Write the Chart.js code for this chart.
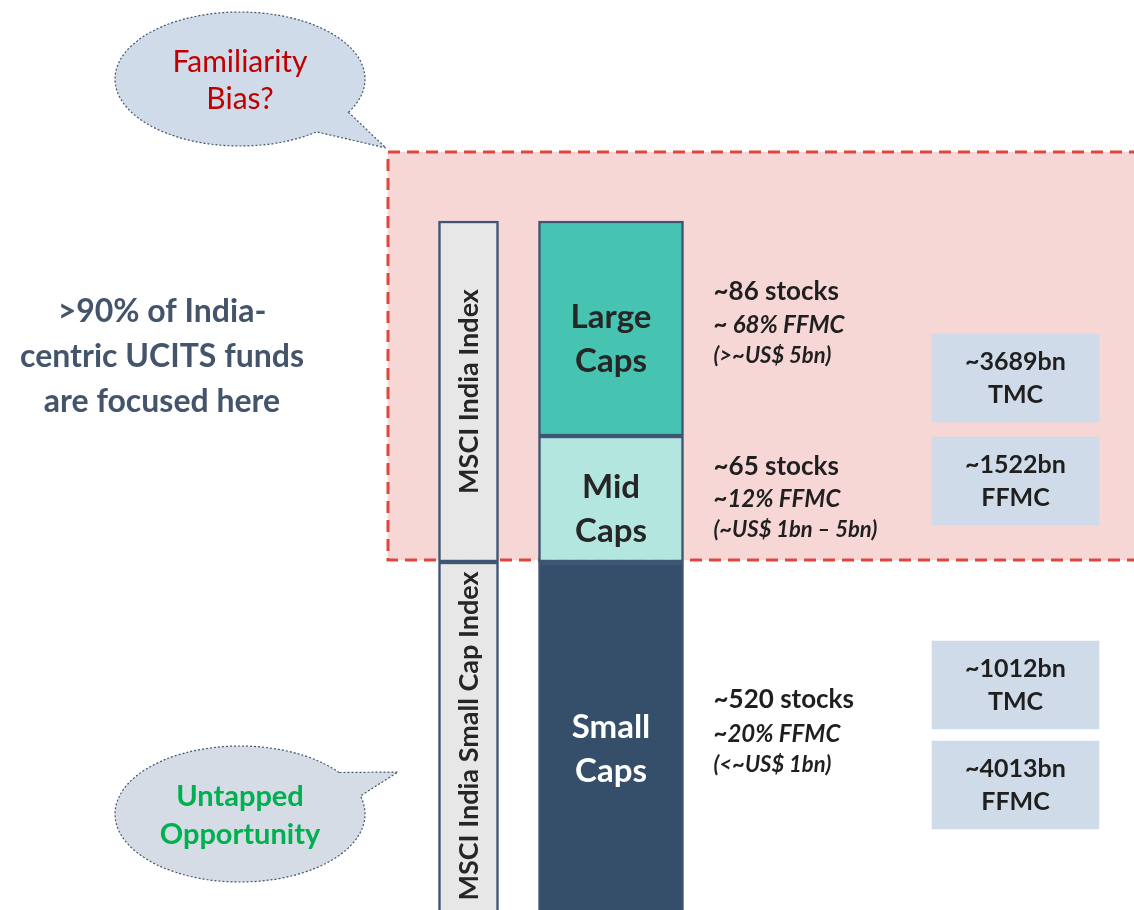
<!DOCTYPE html>
<html>
<head>
<meta charset="utf-8">
<script src="https://cdn.jsdelivr.net/npm/chart.js@4.4.1/dist/chart.umd.min.js"></script>
<style>
  html, body { margin: 0; padding: 0; background: #ffffff; }
  #wrap { width: 1134px; height: 910px; }
</style>
</head>
<body>
<div id="wrap"><canvas id="chart" width="1134" height="910"></canvas></div>
<script>
// market cap segments, top to bottom
const segments = ["Large Caps", "Mid Caps", "Small Caps"];
const segmentStocks = ["~86 stocks", "~65 stocks", "~520 stocks"];
const segmentShare = ["~ 68% FFMC", "~12% FFMC", "~20% FFMC"];
const segmentRange = ["(>~US$ 5bn)", "(~US$ 1bn \u2013 5bn)", "(<~US$ 1bn)"];
// schematic block heights (diagram units, not to scale)
const segmentHeights = [215, 126, 370];

// index families and how many segments each one covers
const indices = ["MSCI India Index", "MSCI India Small Cap Index"];
const indexSpans = [2, 1];

// market cap totals, US$
const capValues = ["~3689bn", "~1522bn", "~1012bn", "~4013bn"];
const capKinds = ["TMC", "FFMC", "TMC", "FFMC"];

// callouts
const focusNote = [">90% of India-", "centric UCITS funds", "are focused here"];
const bubbleTop = ["Familiarity", "Bias?"];
const bubbleBottom = ["Untapped", "Opportunity"];

// ---- layout (diagram units = px, y grows downwards) ----
const W = 1134, H = 910;
const TOP = 221;
const colIndex = { x: 468.5, w: 60 };
const colCaps = { x: 611, w: 145 };
const colBox = { x: 1015.5, w: 167 };
const boxRows = [[334, 422], [437, 525], [641, 729], [741, 829]];
const zone = { x0: 388, x1: 1160, y0: 152, y1: 560 };
const segColors = ["#47C3B1", "#B4E6E0", "#354E69"];
const segText = ["#262626", "#262626", "#ffffff"];
const segLabelY = [[317, 361], [487, 531], [727, 771]];
const infoY = [[292, 325, 356], [467, 499, 530], [700, 734, 765]];
const FONT = "Lato, 'Open Sans', sans-serif";

// cumulative block edges
const segEdges = [];
let acc = TOP;
segmentHeights.forEach((h) => {
  segEdges.push([acc, acc + h]);
  acc += h;
});

const indexEdges = [];
let si = 0;
indexSpans.forEach((n) => {
  indexEdges.push([segEdges[si][0], segEdges[si + n - 1][1]]);
  si += n;
});

const annotate = {
  id: "annotate",
  beforeDatasetsDraw(chart) {
    const { ctx, scales: { x, y } } = chart;
    ctx.save();
    drawBubble(ctx, x, y, { cx: 240, cy: 79, rx: 125, ry: 67, a: 0.52, b: 0.91, tip: [386, 148], fill: "#CFDBE8" });
    drawBubble(ctx, x, y, { cx: 240, cy: 814, rx: 125, ry: 68, a: -0.656, b: -0.269, tip: [398, 772], fill: "#D6DCE5" });
    ctx.restore();
  },
  afterDatasetsDraw(chart) {
    const { ctx, scales: { x, y } } = chart;
    ctx.save();
    ctx.textBaseline = "middle";

    // bubble captions
    ctx.textAlign = "center";
    ctx.fillStyle = "#C00000";
    ctx.font = `400 30px ${FONT}`;
    bubbleTop.forEach((t, i) => ctx.fillText(t, x.getPixelForValue(240), y.getPixelForValue(62 + i * 37)));
    ctx.fillStyle = "#00B050";
    ctx.font = `700 29px ${FONT}`;
    bubbleBottom.forEach((t, i) => ctx.fillText(t, x.getPixelForValue(240), y.getPixelForValue(797 + i * 38)));

    // left note
    ctx.fillStyle = "#44546A";
    ctx.font = `700 32px ${FONT}`;
    focusNote.forEach((t, i) => ctx.fillText(t, x.getPixelForValue(162), y.getPixelForValue(312 + i * 45)));

    // segment names inside the blocks
    ctx.font = `700 33px ${FONT}`;
    segments.forEach((s, i) => {
      ctx.fillStyle = segText[i];
      s.split(" ").forEach((w, j) => ctx.fillText(w, x.getPixelForValue(colCaps.x), y.getPixelForValue(segLabelY[i][j])));
    });

    // segment facts to the right
    ctx.textAlign = "left";
    ctx.fillStyle = "#1F1F1F";
    const tx = x.getPixelForValue(colCaps.x + colCaps.w / 2 + 30);
    segments.forEach((s, i) => {
      ctx.font = `700 26px ${FONT}`;
      ctx.fillText(segmentStocks[i], tx, y.getPixelForValue(infoY[i][0]));
      ctx.font = `italic 700 24px ${FONT}`;
      ctx.fillText(segmentShare[i], tx, y.getPixelForValue(infoY[i][1]));
      ctx.font = `italic 700 22px ${FONT}`;
      ctx.fillText(segmentRange[i], tx, y.getPixelForValue(infoY[i][2]));
    });

    // cap totals in the boxes
    ctx.textAlign = "center";
    ctx.font = `700 25px ${FONT}`;
    capValues.forEach((v, i) => {
      const mid = (boxRows[i][0] + boxRows[i][1]) / 2;
      ctx.fillText(v, x.getPixelForValue(colBox.x), y.getPixelForValue(mid - 16));
      ctx.fillText(capKinds[i], x.getPixelForValue(colBox.x), y.getPixelForValue(mid + 17));
    });

    // rotated index names
    ctx.font = `700 27px ${FONT}`;
    ctx.fillStyle = "#262626";
    indices.forEach((name, i) => {
      const bottom = Math.min(indexEdges[i][1], H);
      const cy = (indexEdges[i][0] + bottom) / 2;
      ctx.save();
      ctx.translate(x.getPixelForValue(colIndex.x), y.getPixelForValue(cy));
      ctx.rotate(-Math.PI / 2);
      ctx.fillText(name, 0, 1);
      ctx.restore();
    });
    ctx.restore();
  }
};

function drawBubble(ctx, x, y, b) {
  const cx = x.getPixelForValue(b.cx), cy = y.getPixelForValue(b.cy);
  ctx.beginPath();
  ctx.ellipse(cx, cy, b.rx, b.ry, 0, b.a, b.b, true);
  ctx.lineTo(x.getPixelForValue(b.tip[0]), y.getPixelForValue(b.tip[1]));
  ctx.closePath();
  ctx.fillStyle = b.fill;
  ctx.fill();
  ctx.setLineDash([2, 2]);
  ctx.lineWidth = 1.2;
  ctx.strokeStyle = "#44546A";
  ctx.stroke();
  ctx.setLineDash([]);
}

const zoneMid = (zone.x0 + zone.x1) / 2;

new Chart(document.getElementById("chart"), {
  type: "bar",
  data: {
    datasets: [
      {
        label: "focus zone",
        data: [{ x: zoneMid, y: [zone.y0, zone.y1] }],
        backgroundColor: "#F6D7D6",
        borderWidth: 0,
        barThickness: zone.x1 - zone.x0,
        grouped: false,
        order: 10
      },
      {
        type: "line",
        label: "focus outline",
        data: [
          { x: zone.x1, y: zone.y0 },
          { x: zone.x0, y: zone.y0 },
          { x: zone.x0, y: zone.y1 },
          { x: zone.x1, y: zone.y1 }
        ],
        borderColor: "#E0463B",
        borderWidth: 3,
        borderDash: [12, 7],
        pointRadius: 0,
        fill: false,
        tension: 0,
        order: 9
      },
      {
        label: "indices",
        data: indexEdges.map((e) => ({ x: colIndex.x, y: e })),
        backgroundColor: "#E7E7E7",
        borderColor: "#3E5573",
        borderWidth: 2.5,
        borderSkipped: false,
        barThickness: colIndex.w,
        grouped: false,
        order: 2
      },
      {
        label: "segments",
        data: segEdges.map((e) => ({ x: colCaps.x, y: e })),
        backgroundColor: segColors,
        borderColor: "#3E5573",
        borderWidth: 2.5,
        borderSkipped: false,
        barThickness: colCaps.w,
        grouped: false,
        order: 1
      },
      {
        label: "cap totals",
        data: boxRows.map((r) => ({ x: colBox.x, y: r })),
        backgroundColor: "#CFDBE8",
        borderWidth: 0,
        barThickness: colBox.w,
        grouped: false,
        order: 1
      }
    ]
  },
  options: {
    responsive: false,
    animation: false,
    events: [],
    layout: { padding: 0 },
    plugins: { legend: { display: false }, tooltip: { enabled: false } },
    scales: {
      x: { type: "linear", min: 0, max: W, display: false, offset: false },
      y: { type: "linear", min: 0, max: H, reverse: true, display: false, stacked: false }
    }
  },
  plugins: [annotate]
});
</script>
</body>
</html>
